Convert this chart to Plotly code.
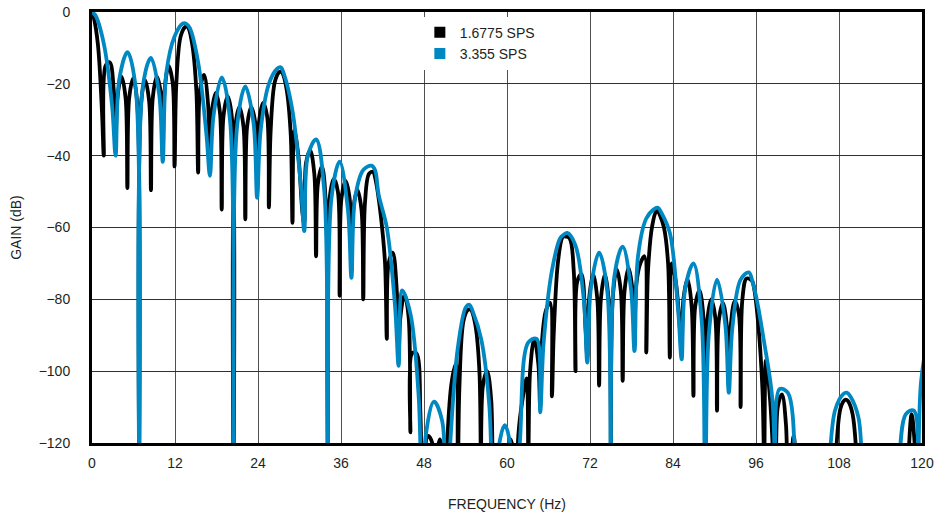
import plotly.graph_objects as go

# Sample grid: each lobe interval is read at its start (null), 15%, 50% and 85%
lobe_offsets = [0.0, 0.15, 0.5, 0.85]
blk_step_hz = 1.705   # lobe spacing of the 1.6775 SPS curve
blu_step_hz = 3.41    # lobe spacing of the 3.355 SPS curve

# GAIN (dB), one row per lobe interval
blk_gain = [
    (0, -1.5, -9, -28), (-40, -15, -14, -22), (-38, -24, -18, -24), (-49, -24, -18.5, -26),
    (-140, -26, -19, -25), (-49.6, -24, -18, -23), (-40, -22, -15, -20), (-43, -20, -7, -4.3),
    (-4, -4.3, -9, -22), (-44.7, -22, -17.5, -26), (-44, -28, -22.5, -28), (-55, -29, -23.5, -29),
    (-140, -32, -26.5, -32), (-57.7, -32, -26.5, -31), (-50, -31, -25.3, -29), (-54.4, -33, -19.5, -16.8),
    (-16.6, -17, -21.5, -34), (-58.7, -33, -40, -56), (-59, -42, -38.5, -45), (-68, -48, -43, -55),
    (-140, -52, -46.5, -50), (-79, -52, -47, -52), (-72, -55, -49.5, -55), (-80, -53, -45, -44.5),
    (-46, -48.5, -57, -70), (-91, -70, -67, -78), (-96, -85, -78.6, -85), (-117, -95, -95, -112),
    (-140, -125, -118, -120), (-140, -125, -119, -125), (-140, -118, -103, -98), (-140, -105, -86, -83),
    (-82.8, -83, -87, -100), (-140, -104, -100, -108), (-140, -130, -122, -130), (-140, -130, -119, -125),
    (-140, -118, -108, -102), (-122, -100, -91, -98), (-110, -92, -83, -81), (-107, -90, -70, -63),
    (-62.4, -62.5, -63, -72), (-100, -75, -73, -88), (-96, -80, -73, -80), (-104, -80, -73, -82),
    (-140, -80, -71.7, -78), (-102.7, -78, -71.2, -78), (-93, -76, -70, -68), (-94.8, -72, -59.6, -55.5),
    (-55.5, -56.5, -60, -70), (-96.2, -70, -75, -88), (-95, -80, -74.4, -82), (-106.9, -82, -77.5, -85),
    (-140, -87, -80, -85), (-111, -86, -81, -88), (-104, -88, -80.5, -84), (-110, -80, -74.2, -74.5),
    (-75, -77, -87, -105), (-125, -97, -108, -130), (-140, -110, -106.5, -115), (-140, -135, -118, -135),
    (-140, -140, -140, -140), (-140, -140, -140, -140), (-140, -140, -135, -128), (-140, -120, -110, -108),
    (-108, -108.5, -112, -125), (-140, -140, -140, -140), (-140, -140, -140, -140), (-140, -140, -140, -140),
    (-140, -140, -140, -140), (-140, -130, -112, -125), (-140, -140, -130, -125),
]

blu_gain = [
    (0, -1, -8.8, -26), (-40, -19, -11.2, -21), (-140, -21, -12.8, -23), (-41.7, -17, -6.8, -3.2),
    (-3.3, -4.5, -14, -34), (-45.6, -29, -18.2, -30), (-140, -32, -20.7, -31), (-51.7, -33, -20, -15.8),
    (-15.4, -17.5, -27.5, -48), (-61, -40, -35.5, -50), (-140, -52, -41.7, -55), (-74, -52, -44, -42.8),
    (-44, -50.8, -60, -82), (-98.5, -77.5, -84, -107), (-140, -118, -108.5, -114), (-140, -124, -94, -82.2),
    (-81.5, -83.5, -91, -110), (-140, -125, -115, -125), (-140, -119, -92, -91), (-111.5, -92, -72, -63),
    (-62, -61.5, -65, -80), (-97.6, -77, -67, -78), (-140, -73.5, -65.3, -77), (-94.4, -68, -57.5, -54.8),
    (-54.5, -56, -61.5, -83), (-96.7, -77, -70, -86), (-140, -90, -74.5, -87), (-106, -88, -74.5, -72.5),
    (-75, -79, -92, -108), (-140, -105, -106, -130), (-140, -140, -135, -140), (-140, -135, -111, -106.4),
    (-106, -107, -113, -140), (-140, -140, -140, -140), (-140, -135, -112, -111), (-140, -103, -90, -85),
]

series_names = ["1.6775 SPS", "3.355 SPS"]
series_colors = ["#000000", "#0088c2"]

x_ticks = [0, 12, 24, 36, 48, 60, 72, 84, 96, 108, 120]
y_ticks = [0, -20, -40, -60, -80, -100, -120]


def flatten(rows, step):
    freq = [(i + o) * step for i in range(len(rows)) for o in lobe_offsets]
    gain = [v for row in rows for v in row]
    return freq, gain


blk_f, blk_g = flatten(blk_gain, blk_step_hz)
blu_f, blu_g = flatten(blu_gain, blu_step_hz)

fig = go.Figure()

# black curve first so the blue one sits on top
for f, g, color in [(blk_f, blk_g, series_colors[0]), (blu_f, blu_g, series_colors[1])]:
    fig.add_trace(go.Scatter(
        x=f, y=g, mode="lines",
        line=dict(color=color, width=3.8, shape="spline", smoothing=1.0),
        showlegend=False, hoverinfo="skip",
    ))

# square legend swatches
for name, color in zip(series_names, series_colors):
    fig.add_trace(go.Scatter(
        x=[None], y=[None], mode="markers", name=name,
        marker=dict(symbol="square", size=11, color=color),
    ))

axis_font = dict(family="Arial, Liberation Sans, sans-serif", size=14, color="#231f20")

fig.update_layout(
    width=938, height=516,
    margin=dict(l=92, r=16, t=12, b=73),
    paper_bgcolor="white", plot_bgcolor="white",
    font=axis_font,
    legend=dict(
        x=0.395, y=0.989, xanchor="left", yanchor="top",
        bgcolor="white", borderwidth=0,
        font=dict(size=14), itemwidth=30, tracegroupgap=0,
    ),
    xaxis=dict(
        range=[0, 120], tickvals=x_ticks, ticks="", ticklabelstandoff=5,
        showgrid=True, gridcolor="#505050", gridwidth=1.2,
        showline=True, linecolor="black", linewidth=3, mirror=True,
        zeroline=False, automargin=False,
        title=dict(text="FREQUENCY (Hz)", standoff=30, font=axis_font),
    ),
    yaxis=dict(
        range=[-120, 0], tickvals=y_ticks, ticks="", ticklabelstandoff=16,
        showgrid=True, gridcolor="#303030", gridwidth=1.2,
        showline=True, linecolor="black", linewidth=3, mirror=True,
        zeroline=False, automargin=False,
        title=dict(text="GAIN (dB)", standoff=14, font=axis_font),
    ),
)

# drop the default 8px page margin so the figure fills the window exactly
fig.write_html(
    "out.html",
    config={"displayModeBar": False},
    post_script="document.body.style.margin = '0';",
)
